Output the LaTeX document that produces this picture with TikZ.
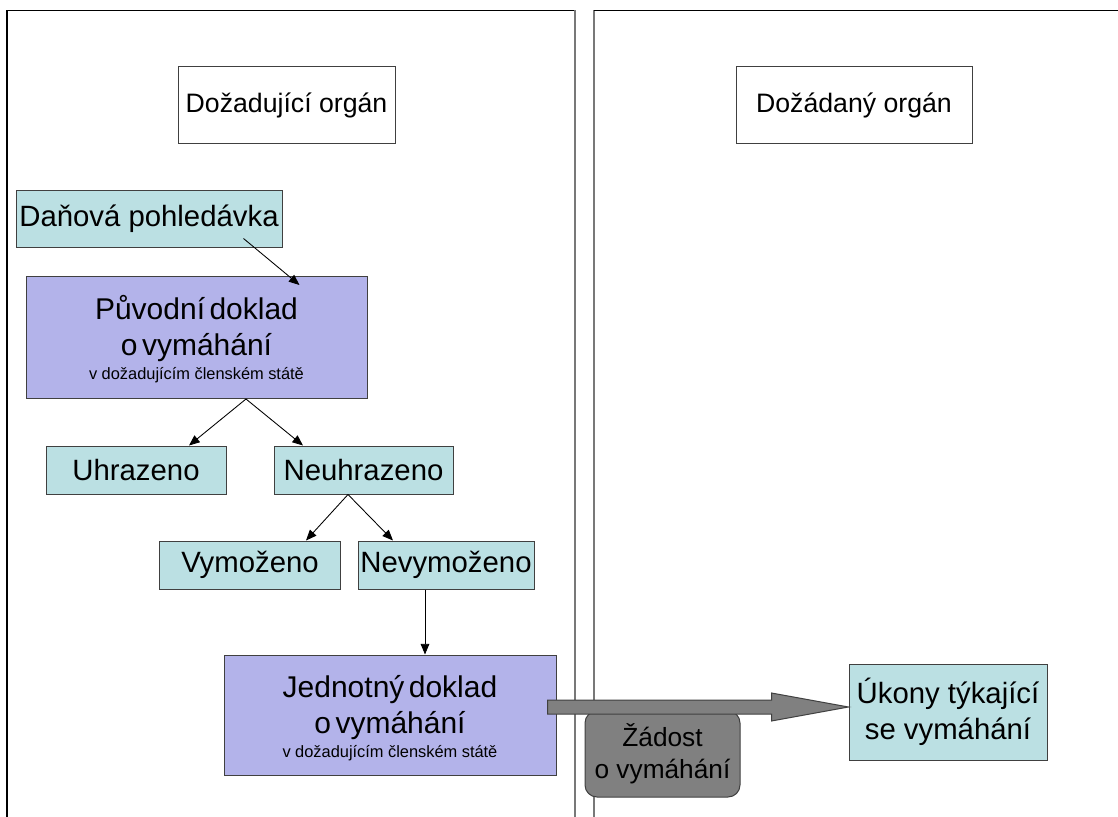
\documentclass[tikz,border=0pt]{standalone}
\usepackage{fontspec}
\setmainfont{Liberation Sans}
\usetikzlibrary{calc,arrows.meta}
\newdimen\px \px=0.75pt
\definecolor{cyanbox}{RGB}{187,224,227}
\definecolor{purplebox}{RGB}{179,179,234}
\definecolor{edgecol}{RGB}{64,64,64}
\definecolor{arrowgray}{RGB}{128,128,128}
\definecolor{panelgray}{RGB}{120,120,120}
\begin{document}
\begin{tikzpicture}[x=0.75pt,y=-0.75pt,
  box/.style={draw=edgecol,line width=0.75pt,rectangle,inner sep=0pt,align=center},
  header/.style={box,fill=white,font=\fontsize{20}{24}\selectfont},
  state/.style={box,fill=cyanbox,font=\fontsize{22}{27}\selectfont},
  docbox/.style={box,fill=purplebox},
  conn/.style={-{Triangle[length=8pt,width=6.5pt]},line width=0.65pt,black},
  bigarrow/.style={draw=edgecol,fill=arrowgray,line width=0.75pt},
  reqbox/.style={box,fill=arrowgray,rounded corners=9pt,font=\fontsize{19.7}{24}\selectfont}]
\useasboundingbox (0,0) rectangle (1118,817);
\fill[white] (0,0) rectangle (1118,817);
% panels
\draw[black,line width=0.9pt] (7,817) -- (7,10.5) -- (575,10.5);
\draw[panelgray,line width=0.9pt] (575,10.5) -- (575,817);
\draw[panelgray,line width=0.9pt] (594,817) -- (594,10.5);
\draw[black,line width=0.9pt] (594,10.5) -- (1118,10.5);
% headers
\node[header,minimum width=217\px,minimum height=76\px] (dozadujici) at (286.5,105) {Dožadující orgán};
\node[header,minimum width=236\px,minimum height=76\px] (dozadany) at (854,105) {Dožádaný orgán};
% left side
\node[state,minimum width=266\px,minimum height=57\px] (danova) at (149,218.5) {Daňová pohledávka};
\node[docbox,minimum height=122\px,text width=341\px] (puvodni) at (196.5,337.5)
  {\par\vspace*{-8\px}\fontsize{22.5}{27}\selectfont Původní doklad\\o vymáhání\par
   \fontsize{12.3}{18}\selectfont v dožadujícím členském státě\par};
\node[state,minimum width=180\px,minimum height=48\px] (uhrazeno) at (136,470) {Uhrazeno};
\node[state,minimum width=179\px,minimum height=48\px] (neuhrazeno) at (363.5,470) {Neuhrazeno};
\node[state,minimum width=181\px,minimum height=48\px] (vymozeno) at (250,565) {Vymoženo};
\node[state,minimum width=176\px,minimum height=48\px] (nevymozeno) at (446,565) {Nevymoženo};
\node[docbox,minimum height=120\px,text width=332\px] (jednotny) at (390,715)
  {\par\vspace*{-8\px}\fontsize{22.5}{27}\selectfont Jednotný doklad\\o vymáhání\par
   \fontsize{12.3}{18}\selectfont v dožadujícím členském státě\par};
% right side
\node[state,minimum width=198\px,minimum height=96\px] (ukony) at (948,712) {Úkony týkající\\ se vymáhání};
% connectors
\draw[conn] ($(danova.south east)+(-39,-9)$) -- ($(puvodni.north)+(103,9)$);
\draw[conn] ($(puvodni.south)+(49.5,0)$) -- ($(uhrazeno.north)+(53,0)$);
\draw[conn] ($(puvodni.south)+(49.5,0)$) -- ($(neuhrazeno.north)+(-60.5,0)$);
\draw[conn] ($(neuhrazeno.south)+(-15.5,0)$) -- ($(vymozeno.north)+(56,0)$);
\draw[conn] ($(neuhrazeno.south)+(-15.5,0)$) -- ($(nevymozeno.north)+(-53,0)$);
\coordinate (nvb) at ($(nevymozeno.south)+(-21,0)$);
\draw[conn] (nvb) -- (nvb |- jednotny.north);
% request box and big arrow
\node[reqbox,minimum width=155\px,minimum height=86\px] (zadost) at (662.5,754) {Žádost\\o vymáhání};
\coordinate (s) at ($(jednotny.east)+(-9,-8)$);
\coordinate (t) at ($(ukony.west)+(0,-5)$);
\draw[bigarrow] ($(s)+(0,-7)$) -- ($(t)+(-77,-7)$) -- ($(t)+(-77,-14)$) -- (t)
  -- ($(t)+(-77,14)$) -- ($(t)+(-77,7)$) -- ($(s)+(0,7)$) -- cycle;
\end{tikzpicture}
\end{document}
